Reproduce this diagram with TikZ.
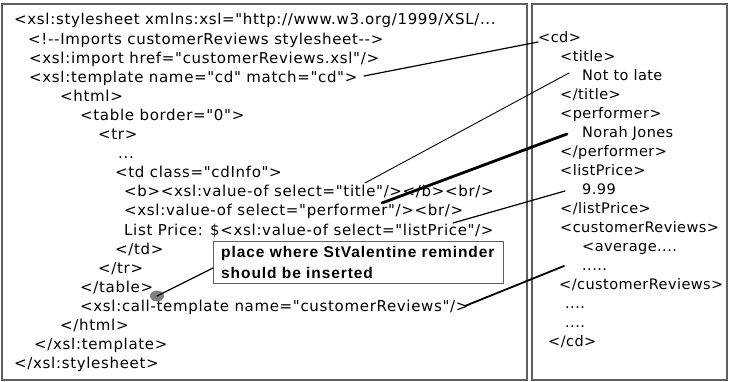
\documentclass[tikz,border=0pt]{standalone}
\usepackage{fontspec}
\newfontfamily\codefont{DejaVu Sans}[LetterSpace=4.5]
\newfontfamily\xmlfont{DejaVu Sans}[LetterSpace=3]
\newfontfamily\callfont{Liberation Sans}[LetterSpace=6]
\usetikzlibrary{shapes.geometric}
\definecolor{frame}{RGB}{95,95,95}
\definecolor{dotgray}{RGB}{128,128,128}
\begin{document}
\begin{tikzpicture}[x=1pt,y=-1pt,
  code/.style={anchor=base west, inner sep=0pt, font=\codefont\fontsize{15}{18}\selectfont},
  xml/.style={anchor=base west, inner sep=0pt, font=\xmlfont\fontsize{14.5}{18}\selectfont},
  panel/.style={draw=frame, line width=1.3pt},
  callbox/.style={draw=frame, line width=1pt, fill=white, anchor=north west, inner sep=0pt,
    minimum width=290pt, minimum height=42pt},
  calltext/.style={anchor=base west, inner sep=0pt, font=\callfont\bfseries\fontsize{15.5}{18}\selectfont},
  dotmark/.style={ellipse, fill=dotgray, minimum width=14pt, minimum height=11pt, inner sep=0pt},
  link/.style={draw=black, line cap=round}]
\useasboundingbox (0,0) rectangle (729,382);

% panels
\draw[panel] (2,4) rectangle (527,380);
\draw[panel] (532,4) rectangle (727,380);

% left column text
\def\ly#1{20+19.1*#1+5}
\node[code] (l0)  at (14,{\ly{0}})  {<xsl:stylesheet xmlns:xsl="http://www.w3.org/1999/XSL/...};
\node[code] (l1)  at (28,{\ly{1}})  {<!-{}-Imports customerReviews stylesheet-{}->};
\node[code] (l2)  at (29,{\ly{2}})  {<xsl:import href="customerReviews.xsl"/>};
\node[code] (l3)  at (29,{\ly{3}})  {<xsl:template name="cd" match="cd">};
\node[code] (l4)  at (60,{\ly{4}})  {<html>};
\node[code] (l5)  at (80,{\ly{5}})  {<table border="0">};
\node[code] (l6)  at (98,{\ly{6}})  {<tr>};
\node[code] (l7)  at (118,{\ly{7}}) {...};
\node[code] (l8)  at (115,{\ly{8}}) {<td class="cdInfo">};
\node[code] (l9)  at (124,{\ly{9}}) {<b><xsl:value-of select="title"/></b><br/>};
\node[code] (l10) at (124,{\ly{10}}) {<xsl:value-of select="performer"/><br/>};
\node[code] (l11) at (124,{\ly{11}}) {List Price: \$<xsl:value-of select="listPrice"/>};
\node[code] (l12) at (115,{\ly{12}}) {</td>};
\node[code] (l13) at (98,{\ly{13}}) {</tr>};
\node[code] (l14) at (80,{\ly{14}}) {</table>};
\node[code] (l15) at (80,{\ly{15}}) {<xsl:call-template name="customerReviews"/>};
\node[code] (l16) at (60,{\ly{16}}) {</html>};
\node[code] (l17) at (34,{\ly{17}}) {</xsl:template>};
\node[code] (l18) at (14,{\ly{18}}) {</xsl:stylesheet>};

% right column text
\def\ry#1{38+19*#1+5}
\node[xml] (r0)  at (538,{\ry{0}})  {<cd>};
\node[xml] (r1)  at (560,{\ry{1}})  {<title>};
\node[xml] (r2)  at (582,{\ry{2}})  {Not to late};
\node[xml] (r3)  at (560,{\ry{3}})  {</title>};
\node[xml] (r4)  at (560,{\ry{4}})  {<performer>};
\node[xml] (r5)  at (582,{\ry{5}})  {Norah Jones};
\node[xml] (r6)  at (560,{\ry{6}})  {</performer>};
\node[xml] (r7)  at (560,{\ry{7}})  {<listPrice>};
\node[xml] (r8)  at (582,{\ry{8}})  {9.99};
\node[xml] (r9)  at (560,{\ry{9}})  {</listPrice>};
\node[xml] (r10) at (560,{\ry{10}}) {<customerReviews>};
\node[xml] (r11) at (582,{\ry{11}}) {<average....};
\node[xml] (r12) at (582,{\ry{12}}) {.....};
\node[xml] (r13) at (559,{\ry{13}}) {</customerReviews>};
\node[xml] (r14) at (565,{\ry{14}}) {....};
\node[xml] (r15) at (565,{\ry{15}}) {....};
\node[xml] (r16) at (548,{\ry{16}}) {</cd>};

% callout
\node[callbox] (call) at (213,241) {};
\node[calltext] (callA) at (221,258) {place where StValentine reminder};
\node[calltext] (callB) at (221,279) {should be inserted};
\node[dotmark] (dot) at (157,296) {};

% connector end points
\coordinate (a1) at (364,76);  \coordinate (b1) at (538,42);
\coordinate (a2) at (365,183); \coordinate (b2) at (569,73);
\coordinate (a3) at (382,203); \coordinate (b3) at (567,134);
\coordinate (a4) at (453,223); \coordinate (b4) at (565,191);
\coordinate (a5) at (465,306); \coordinate (b5) at (564,266);
\coordinate (a6) at (213,268);

\draw[link, line width=1.2pt] (a1) -- (b1);
\draw[link, line width=0.9pt] (a2) -- (b2);
\draw[link, line width=2.8pt] (a3) -- (b3);
\draw[link, line width=1.2pt] (a4) -- (b4);
\draw[link, line width=1.8pt] (a5) -- (b5);
\draw[link, line width=1.3pt] (dot.center) -- (a6);
\end{tikzpicture}
\end{document}
